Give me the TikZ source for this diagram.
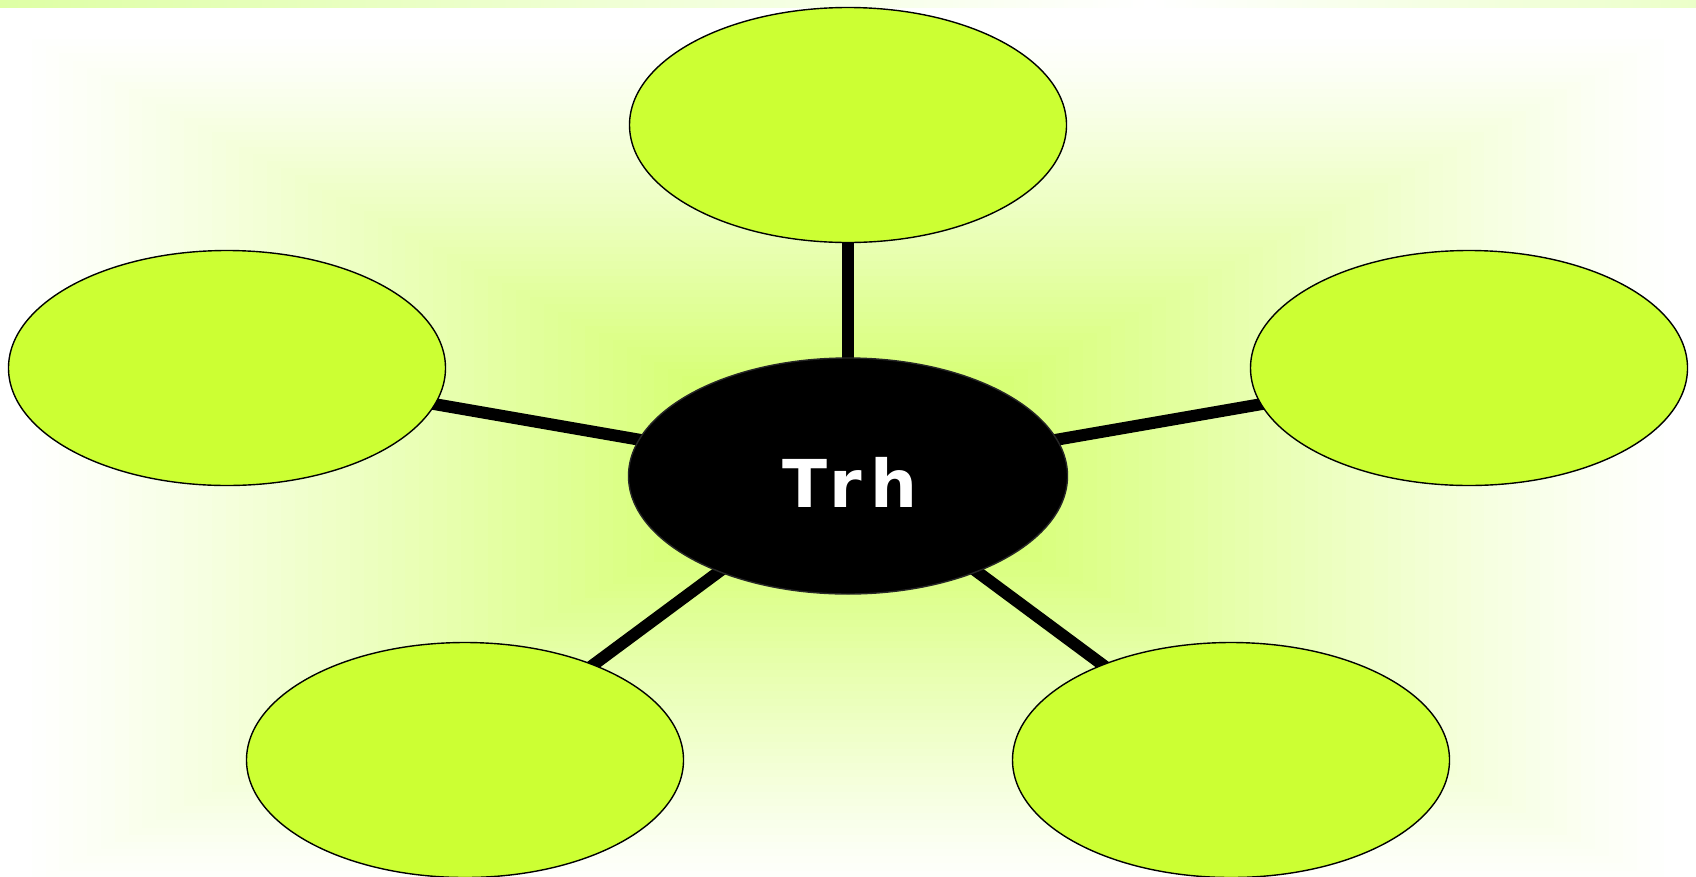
\documentclass[tikz,border=0pt]{standalone}
\usepackage{fontspec}
\setmainfont{DejaVu Sans}
\usetikzlibrary{shapes.geometric}
\pgfdeclarelayer{bg}
\pgfdeclarelayer{links}
\pgfsetlayers{bg,links,main}
\definecolor{lime}{RGB}{204,255,51}
\definecolor{glow}{RGB}{208,255,95}
\definecolor{stripe}{RGB}{222,255,165}
\tikzset{
  bubble/.style={ellipse, draw=black, line width=1.4pt, fill=lime,
    minimum width=437pt, minimum height=235pt, inner sep=0pt},
  hub/.style={ellipse, draw=black!85, line width=1.4pt, fill=black,
    minimum width=439pt, minimum height=236pt, inner sep=0pt},
  hubtext/.style={text=white,
    font=\fontsize{66}{66}\selectfont\bfseries\addfontfeatures{LetterSpace=14}},
  link/.style={line width=12pt, black}
}
\begin{document}
\begin{tikzpicture}[x=1pt,y=-1pt]
\useasboundingbox (0,0) rectangle (1696,876);
\begin{pgfonlayer}{bg}
  \fill[white] (0,0) rectangle (1696,876);
  % soft rectangular glow behind the map
  \foreach \i in {0,...,59}{
    \pgfmathsetmacro{\t}{\i/60}
    \pgfmathsetmacro{\hw}{830*(1-\t)}
    \pgfmathsetmacro{\hh}{430*(1-\t)}
    \pgfmathsetmacro{\p}{100*min(1,1.1*\t^1.15)}
    \fill[glow!\p!white] (848-\hw,462-\hh) rectangle (848+\hw,462+\hh);
  }
  % thin band along the top edge
  \shade[left color=stripe, right color=white] (0,0) rectangle (1150,7);
  \shade[left color=white, right color=stripe!60!white] (1150,0) rectangle (1696,7);
\end{pgfonlayer}

\node[hub]    (c)  at (848,476) {};
\node[hubtext] (lbl) at (850,482) {Trh};
\node[bubble] (t)  at (848,125) {};
\node[bubble] (l)  at (227,368) {};
\node[bubble] (r)  at (1469,368) {};
\node[bubble] (bl) at (465,760) {};
\node[bubble] (br) at (1231,760) {};

\begin{pgfonlayer}{links}
  \foreach \n in {t,l,r,bl,br}
    \draw[link] (c.center) -- (\n.center);
\end{pgfonlayer}
\end{tikzpicture}
\end{document}
